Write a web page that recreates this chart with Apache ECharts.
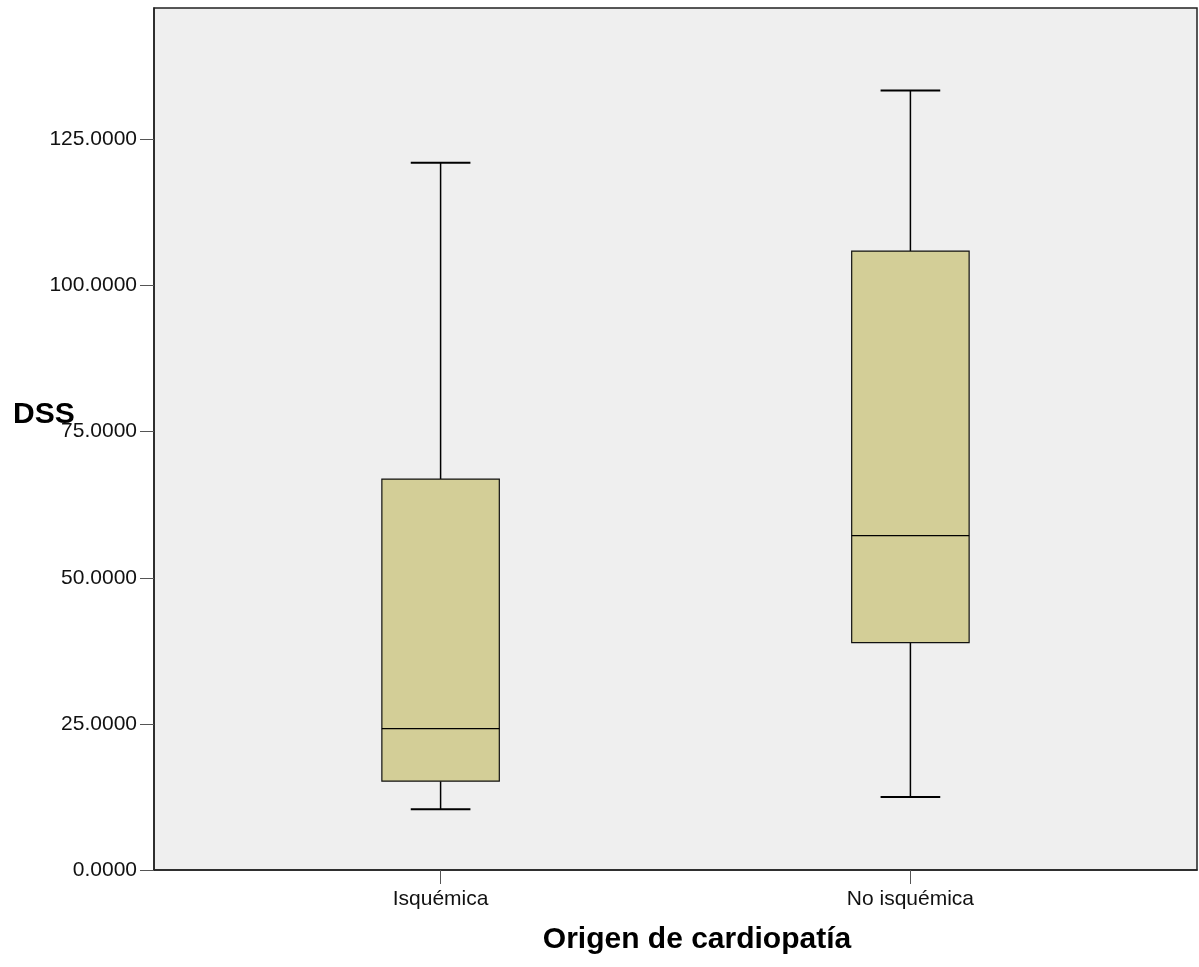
<!DOCTYPE html>
<html>
<head>
<meta charset="utf-8">
<script src="https://cdn.jsdelivr.net/npm/echarts@6/dist/echarts.min.js"></script>
<style>
html,body{margin:0;padding:0;background:#fff;}
#main{width:1199px;height:967px;}
</style>
</head>
<body>
<div id="main"></div>
<script>
const categories = ['Isquémica', 'No isquémica'];
const whiskerLow = [10.4, 12.5];
const q1Values = [15.2, 38.9];
const medianValues = [24.2, 57.2];
const q3Values = [66.9, 105.9];
const whiskerHigh = [121.0, 133.4];
const yAxisTitle = 'DSS';
const xAxisTitle = 'Origen de cardiopatía';

const FONT = '"Liberation Sans", Arial, Helvetica, sans-serif';
const boxData = categories.map((c, i) => [i + 1, whiskerLow[i], q1Values[i], medianValues[i], q3Values[i], whiskerHigh[i]]);

const chart = echarts.init(document.getElementById('main'), null, {renderer: 'canvas'});
const BOX_HALF = 0.125, CAP_HALF = 0.0635;

chart.setOption({
  animation: false,
  backgroundColor: '#ffffff',
  grid: {
    left: 154, right: 2, top: 8, bottom: 97,
    show: true, backgroundColor: '#EFEFEF', borderColor: '#222', borderWidth: 1.5
  },
  xAxis: {
    type: 'value', min: 0.39, max: 2.61,
    axisLine: {show: true, lineStyle: {color: '#222', width: 1.5}},
    axisTick: {show: true, length: 14, customValues: [1, 2], lineStyle: {color: '#555', width: 1}},
    axisLabel: {
      customValues: [1, 2], margin: 19,
      fontFamily: FONT, fontSize: 21, color: '#111',
      formatter: v => categories[Math.round(v) - 1] || ''
    },
    splitLine: {show: false}
  },
  yAxis: {
    type: 'value', min: 0, max: 147.5, interval: 25,
    axisLine: {show: true, lineStyle: {color: '#222', width: 1.5}},
    axisTick: {show: true, length: 14, lineStyle: {color: '#555', width: 1}},
    axisLabel: {
      margin: 17, fontFamily: FONT, fontSize: 21, color: '#111',
      formatter: v => (v > 146 ? '' : v.toFixed(4)),
      showMaxLabel: false
    },
    splitLine: {show: false}
  },
  graphic: [
    {type: 'text', left: 13, top: 400, style: {text: yAxisTitle, font: 'bold 30px ' + FONT, fill: '#000'}},
    {type: 'text', style: {text: xAxisTitle, x: 697, y: 940, textAlign: 'center', textVerticalAlign: 'middle', font: 'bold 30px ' + FONT, fill: '#000'}}
  ],
  series: [{
    type: 'custom',
    data: boxData,
    encode: {x: 0, y: [1, 2, 3, 4, 5]},
    renderItem: function (params, api) {
      const x = api.value(0);
      const lo = api.value(1), q1 = api.value(2), med = api.value(3), q3 = api.value(4), hi = api.value(5);
      const c = (dx, v) => api.coord([x + dx, v]);
      const line = (a, b, w) => ({
        type: 'line',
        shape: {x1: a[0], y1: a[1], x2: b[0], y2: b[1]},
        style: {stroke: '#000', lineWidth: w}
      });
      const tl = c(-BOX_HALF, q3), br = c(BOX_HALF, q1);
      return {
        type: 'group',
        children: [
          line(c(0, q3), c(0, hi), 1.5),
          line(c(-CAP_HALF, hi), c(CAP_HALF, hi), 2),
          line(c(0, q1), c(0, lo), 1.5),
          line(c(-CAP_HALF, lo), c(CAP_HALF, lo), 2),
          {
            type: 'rect',
            shape: {x: tl[0], y: tl[1], width: br[0] - tl[0], height: br[1] - tl[1]},
            style: {fill: '#D3CE97', stroke: '#111', lineWidth: 1.2}
          },
          line(c(-BOX_HALF, med), c(BOX_HALF, med), 1.2)
        ]
      };
    }
  }]
});
</script>
</body>
</html>
